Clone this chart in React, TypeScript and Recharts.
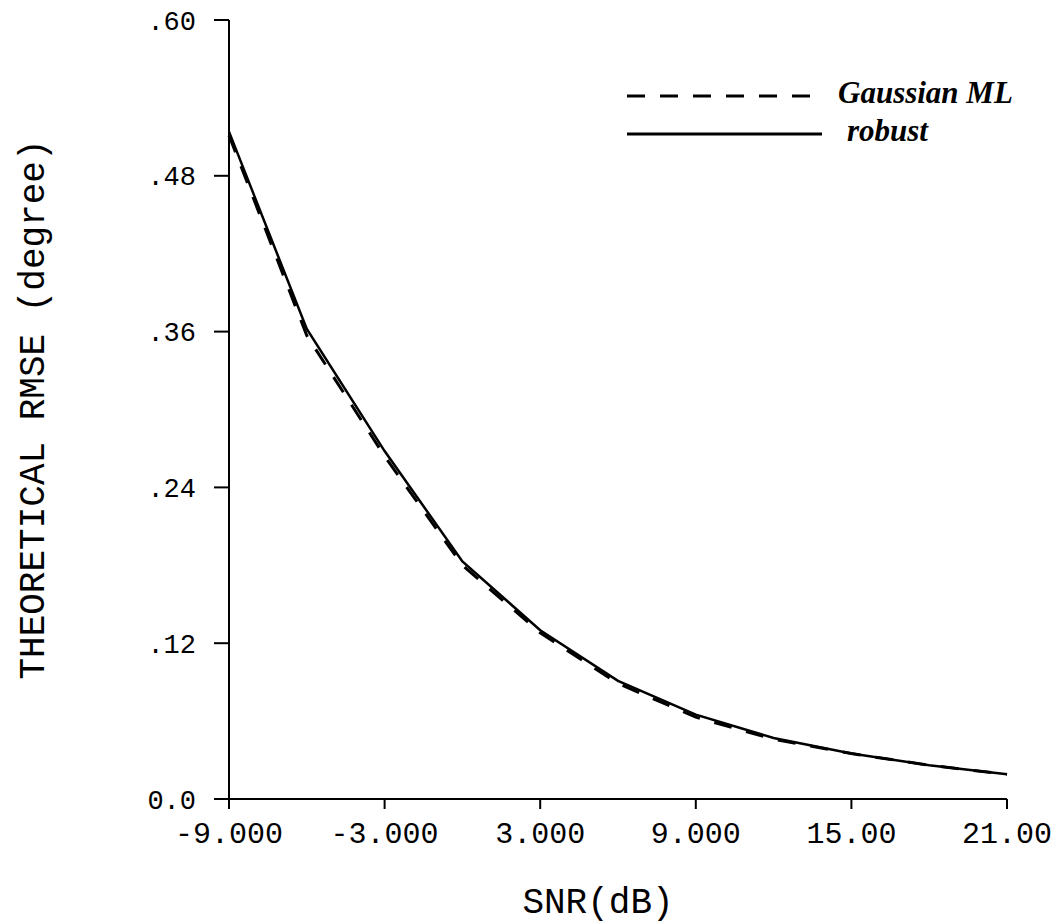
import React from 'react'
import {
  LineChart,
  Line,
  XAxis,
  YAxis,
  Legend,
  Label,
} from 'recharts'

// SNR in dB
const snr = [-9, -6, -3, 0, 3, 6, 9, 12, 15, 18, 21]
const robust = [0.514, 0.362, 0.268, 0.183, 0.13, 0.091, 0.065, 0.047, 0.035, 0.026, 0.019]
const gaussianML = [0.511, 0.357, 0.264, 0.18, 0.128, 0.089, 0.063, 0.046, 0.035, 0.026, 0.019]

const xTicks = [-9, -3, 3, 9, 15, 21]
const xTickLabels = ['-9.000', '-3.000', '3.000', '9.000', '15.00', '21.00']
const yTicks = [0, 0.12, 0.24, 0.36, 0.48, 0.6]
const yTickLabels = ['0.0', '.12', '.24', '.36', '.48', '.60']

const data = snr.map((s, i) => ({ snr: s, robust: robust[i], gaussian: gaussianML[i] }))

const mono = '"Liberation Mono", "DejaVu Sans Mono", monospace'
const serif = '"Liberation Serif", "DejaVu Serif", serif'

function LegendBox({ payload }: any) {
  return (
    <svg width={440} height={80}>
      {(payload || []).map((entry: any, i: number) => {
        const y = 26 + i * 38
        return (
          <g key={entry.value}>
            <line
              x1={7}
              x2={195 + i * 7}
              y1={y}
              y2={y}
              stroke="#000"
              strokeWidth={3}
              strokeDasharray={entry.payload?.strokeDasharray}
            />
            <text
              x={218 + i * 9}
              y={y + 7}
              fontFamily={serif}
              fontStyle="italic"
              fontWeight="bold"
              fontSize={31}
              fill="#000"
            >
              {entry.value}
            </text>
          </g>
        )
      })}
    </svg>
  )
}

export default function App() {
  return (
    <div style={{ position: 'absolute', top: 0, left: 0, background: '#fff' }}>
      <LineChart
        width={1062}
        height={924}
        data={data}
        margin={{ top: 20, right: 55, bottom: 0, left: 0 }}
      >
        <XAxis
          dataKey="snr"
          type="number"
          domain={[-9, 21]}
          ticks={xTicks}
          tickFormatter={(v: number) => xTickLabels[xTicks.indexOf(v)]}
          height={125}
          stroke="#000"
          strokeWidth={2}
          tickSize={10}
          tickMargin={13}
          tick={{ fontFamily: mono, fontSize: 30, fill: '#000' }}
        >
          <Label
            value="SNR(dB)"
            content={({ viewBox }: any) => (
              <text
                x={viewBox.x + viewBox.width / 2 - 20}
                y={viewBox.y + 114}
                textAnchor="middle"
                fontFamily={mono}
                fontSize={36}
                fill="#000"
              >
                SNR(dB)
              </text>
            )}
          />
        </XAxis>
        <YAxis
          type="number"
          domain={[0, 0.6]}
          ticks={yTicks}
          tickFormatter={(v: number) => yTickLabels[yTicks.indexOf(v)]}
          width={229}
          stroke="#000"
          strokeWidth={2}
          tickSize={15}
          tickMargin={18}
          tick={{ fontFamily: mono, fontSize: 27, fill: '#000' }}
        >
          <Label
            value="THEORETICAL RMSE (degree)"
            content={({ viewBox }: any) => {
              const cx = 34
              const cy = viewBox.y + viewBox.height / 2
              return (
                <text
                  x={cx}
                  y={cy}
                  transform={`rotate(-90 ${cx} ${cy})`}
                  textAnchor="middle"
                  dominantBaseline="central"
                  fontFamily={mono}
                  fontSize={36}
                  fill="#000"
                >
                  THEORETICAL RMSE (degree)
                </text>
              )
            }}
          />
        </YAxis>
        <Legend
          layout="horizontal"
          verticalAlign="middle"
          align="center"
          content={<LegendBox />}
          wrapperStyle={{ top: 70, left: 620, width: 440, height: 80 }}
        />
        <Line
          dataKey="gaussian"
          name="Gaussian ML"
          type="linear"
          stroke="#000"
          strokeWidth={3}
          strokeDasharray="18 15"
          dot={false}
          isAnimationActive={false}
        />
        <Line
          dataKey="robust"
          name="robust"
          type="linear"
          stroke="#000"
          strokeWidth={2.5}
          dot={false}
          isAnimationActive={false}
        />
      </LineChart>
    </div>
  )
}
